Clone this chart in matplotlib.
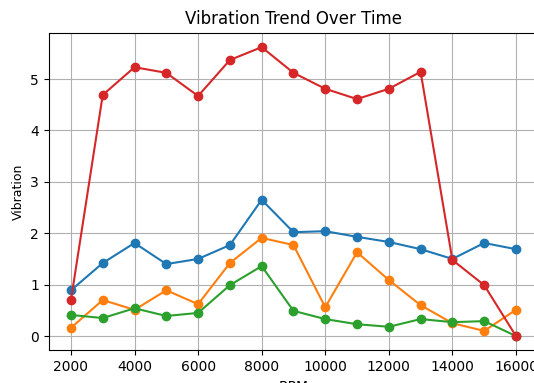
import matplotlib
matplotlib.use("Agg")
import matplotlib.pyplot as plt

rpm = [2000, 3000, 4000, 5000, 6000, 7000, 8000, 9000, 10000, 11000, 12000, 13000, 14000, 15000, 16000]
sensor_a = [0.89, 1.42, 1.81, 1.40, 1.50, 1.77, 2.65, 2.02, 2.04, 1.93, 1.83, 1.69, 1.50, 1.81, 1.69]
sensor_b = [0.16, 0.70, 0.51, 0.89, 0.62, 1.42, 1.91, 1.77, 0.56, 1.63, 1.09, 0.60, 0.25, 0.10, 0.51]
sensor_c = [0.41, 0.35, 0.54, 0.39, 0.45, 0.99, 1.36, 0.49, 0.33, 0.23, 0.18, 0.33, 0.27, 0.29, 0.00]
sensor_d = [0.70, 4.69, 5.23, 5.12, 4.67, 5.37, 5.62, 5.12, 4.81, 4.61, 4.81, 5.14, 1.48, 0.99, 0.00]

fig = plt.figure(figsize=(5.34, 3.83), dpi=100)
ax = fig.add_axes([0.0912, 0.0849, 0.9167, 0.8297])

for series, color in zip([sensor_a, sensor_b, sensor_c, sensor_d],
                         ["#1f77b4", "#ff7f0e", "#2ca02c", "#d62728"]):
    ax.plot(rpm, series, marker="o", color=color, linewidth=1.5, markersize=6)

ax.set_title("Vibration Trend Over Time", fontsize=12)
ax.set_xlabel("RPM", fontsize=10)
ax.set_ylabel("Vibration", fontsize=9)
ax.set_xticks([2000, 4000, 6000, 8000, 10000, 12000, 14000, 16000])
ax.grid(True, color="#b0b0b0", linewidth=0.8)
ax.tick_params(labelsize=10)

fig.savefig("out.png", dpi=100)
